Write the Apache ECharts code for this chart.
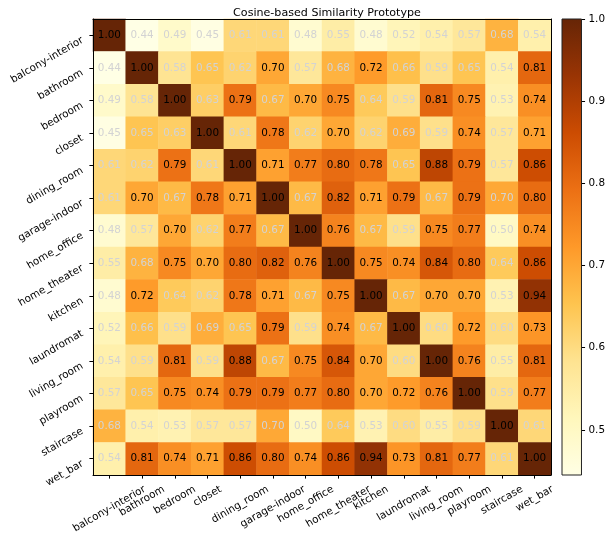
<!DOCTYPE html>
<html><head><meta charset="utf-8">
<script src="https://cdn.jsdelivr.net/npm/echarts@6/dist/echarts.min.js"></script>
<style>html,body{margin:0;padding:0;background:#fff}#c{width:608px;height:542px}</style>
</head><body><div id="c"></div>
<script>
const categories = ['balcony-interior','bathroom','bedroom','closet','dining_room','garage-indoor','home_office','home_theater','kitchen','laundromat','living_room','playroom','staircase','wet_bar'];
const similarity = [
  [1.00,0.44,0.49,0.45,0.61,0.61,0.48,0.55,0.48,0.52,0.54,0.57,0.68,0.54],
  [0.44,1.00,0.58,0.65,0.62,0.70,0.57,0.68,0.72,0.66,0.59,0.65,0.54,0.81],
  [0.49,0.58,1.00,0.63,0.79,0.67,0.70,0.75,0.64,0.59,0.81,0.75,0.53,0.74],
  [0.45,0.65,0.63,1.00,0.61,0.78,0.62,0.70,0.62,0.69,0.59,0.74,0.57,0.71],
  [0.61,0.62,0.79,0.61,1.00,0.71,0.77,0.80,0.78,0.65,0.88,0.79,0.57,0.86],
  [0.61,0.70,0.67,0.78,0.71,1.00,0.67,0.82,0.71,0.79,0.67,0.79,0.698,0.80],
  [0.48,0.57,0.70,0.62,0.77,0.67,1.00,0.76,0.67,0.59,0.75,0.77,0.50,0.74],
  [0.55,0.68,0.75,0.70,0.80,0.82,0.76,1.00,0.75,0.74,0.84,0.80,0.64,0.86],
  [0.48,0.72,0.64,0.62,0.78,0.71,0.67,0.75,1.00,0.67,0.70,0.70,0.53,0.94],
  [0.52,0.66,0.59,0.69,0.65,0.79,0.59,0.74,0.67,1.00,0.60,0.72,0.60,0.73],
  [0.54,0.59,0.81,0.59,0.88,0.67,0.75,0.84,0.70,0.60,1.00,0.76,0.55,0.81],
  [0.57,0.65,0.75,0.74,0.79,0.79,0.77,0.80,0.70,0.72,0.76,1.00,0.59,0.77],
  [0.68,0.54,0.53,0.57,0.57,0.698,0.50,0.64,0.53,0.60,0.55,0.59,1.00,0.61],
  [0.54,0.81,0.74,0.71,0.86,0.80,0.74,0.86,0.94,0.73,0.81,0.77,0.61,1.00]
];
const colorbarTicks = [0.5,0.6,0.7,0.8,0.9,1.0];
const VMIN = 0.445, VMAX = 1.0;
const YLORBR = ['#ffffe5','#fff7bc','#fee391','#fec44f','#fe9929','#ec7014','#cc4c02','#993404','#662506'];

const FONT = 'DejaVu Sans';
const FS = 10.4;
const ctx = document.createElement('canvas').getContext('2d');
ctx.font = FS + 'px "DejaVu Sans"';
const tw = s => ctx.measureText(s).width;

// per-label rich styles: shift each rotated label so its rotated bounding box hangs below the tick, centred on it
const xRich = {};
categories.forEach((c, k) => {
  const w = tw(c);
  xRich['l' + k] = {fontSize: FS, fontFamily: FONT, color: '#000', padding: [0.433 * w, 0.25 * w, 0, 0]};
});

const heatData = [];
similarity.forEach((row, i) => row.forEach((v, j) => {
  heatData.push({value: [j, i, v], label: {color: v >= 0.7 ? '#000' : '#d3d3d3'}});
}));

const chart = echarts.init(document.getElementById('c'), null, {renderer: 'canvas'});
const stops = YLORBR.map((c, k) => ({offset: k / (YLORBR.length - 1), color: c}));

chart.setOption({
  animation: false,
  backgroundColor: '#fff',
  title: {
    text: 'Cosine-based Similarity Prototype', left: 322, top: 3, textAlign: 'center',
    textStyle: {fontFamily: FONT, fontSize: 11.1, fontWeight: 'normal', color: '#000'}
  },
  grid: [
    {left: 93, top: 19, width: 458, height: 456},
    {left: 562, top: 19, width: 23, height: 456}
  ],
  xAxis: [
    {
      type: 'category', gridIndex: 0, position: 'bottom', z: 5, data: categories,
      axisLine: {show: true, lineStyle: {color: '#000', width: 1}},
      axisTick: {show: true, alignWithLabel: true, length: 3.6, lineStyle: {color: '#000'}},
      axisLabel: {
        interval: 0, rotate: 30, align: 'center', verticalAlign: 'middle', margin: 13.5,
        color: '#000', fontSize: FS, fontFamily: FONT,
        formatter: (value, index) => '{l' + index + '|' + value + '}',
        rich: xRich
      },
      splitLine: {show: false}
    },
    {
      type: 'category', gridIndex: 0, position: 'top', z: 5, data: categories,
      axisLine: {show: true, lineStyle: {color: '#000', width: 1}},
      axisTick: {show: false}, axisLabel: {show: false}, splitLine: {show: false}
    },
    {
      type: 'category', gridIndex: 1, data: ['cb'], show: false
    }
  ],
  yAxis: [
    {
      type: 'category', gridIndex: 0, position: 'left', inverse: true, z: 5, data: categories,
      axisLine: {show: true, lineStyle: {color: '#000', width: 1}},
      axisTick: {show: true, alignWithLabel: true, length: 3.6, lineStyle: {color: '#000'}},
      axisLabel: {interval: 0, rotate: 30, align: 'right', verticalAlign: 'top', margin: 13, color: '#000', fontSize: FS, fontFamily: FONT},
      splitLine: {show: false}
    },
    {
      type: 'category', gridIndex: 0, position: 'right', inverse: true, z: 5, data: categories,
      axisLine: {show: true, lineStyle: {color: '#000', width: 1}},
      axisTick: {show: false}, axisLabel: {show: false}, splitLine: {show: false}
    },
    {
      type: 'value', gridIndex: 1, position: 'right', min: VMIN, max: VMAX,
      axisLine: {show: false},
      axisTick: {show: true, length: 3.6, customValues: colorbarTicks, lineStyle: {color: '#000'}},
      axisLabel: {show: true, customValues: colorbarTicks, margin: 7, formatter: v => v.toFixed(1), color: '#000', fontSize: FS, fontFamily: FONT},
      splitLine: {show: false}
    }
  ],
  visualMap: {
    show: false, type: 'continuous', min: VMIN, max: VMAX, seriesIndex: 0, dimension: 2,
    inRange: {color: YLORBR}
  },
  series: [
    {
      type: 'heatmap', xAxisIndex: 0, yAxisIndex: 0, data: heatData,
      label: {show: true, formatter: p => p.value[2].toFixed(2), fontSize: FS, fontFamily: FONT},
      itemStyle: {borderWidth: 0},
      emphasis: {disabled: true}
    },
    {
      type: 'custom', xAxisIndex: 2, yAxisIndex: 2, data: [[0, VMIN, VMAX]], silent: true,
      renderItem: (params, api) => {
        const cs = params.coordSys;
        const top = api.coord([0, api.value(2)])[1];
        const bottom = api.coord([0, api.value(1)])[1];
        return {
          type: 'rect',
          shape: {x: cs.x, y: top, width: cs.width, height: bottom - top},
          style: {fill: new echarts.graphic.LinearGradient(0, 1, 0, 0, stops), stroke: '#222', lineWidth: 1}
        };
      }
    }
  ]
});
</script></body></html>
